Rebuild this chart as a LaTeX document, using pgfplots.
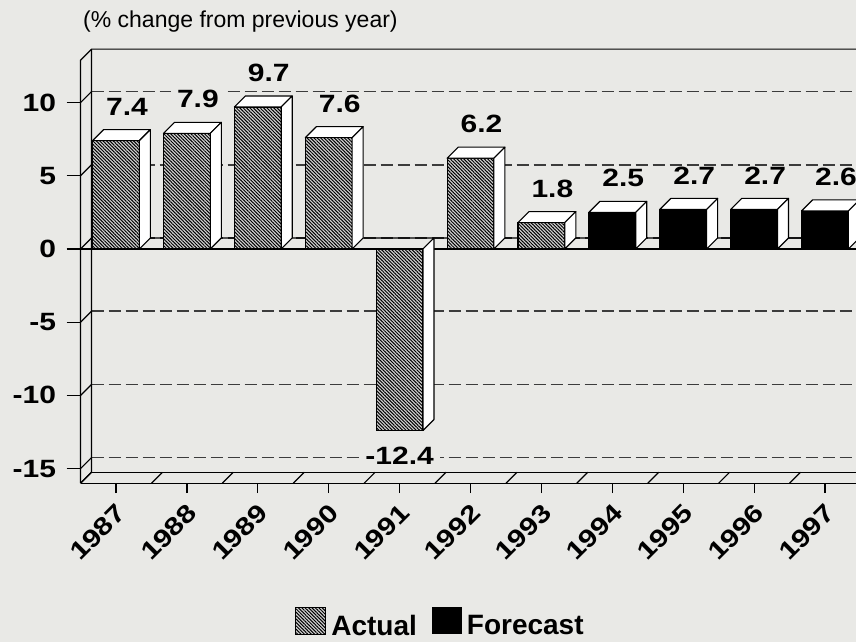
\documentclass[border=0pt]{standalone}
\usepackage{fontspec}
\setmainfont{Liberation Sans}
\newfontfamily\numfont{Liberation Sans}[FakeStretch=1.2]
\usepackage{pgfplots}
\usepackage{pgfplotstable}
\pgfplotsset{compat=1.18}
\usetikzlibrary{patterns,patterns.meta}

\definecolor{paper}{RGB}{233,233,230}
\definecolor{gridgray}{RGB}{60,60,60}
\pgfdeclareplotmark{blank}{}

% annual growth, % change from previous year
\pgfplotstableread{
idx val
0 7.4
1 7.9
2 9.7
3 7.6
4 -12.4
5 6.2
6 1.8
}\actual
\pgfplotstableread{
idx val
7 2.5
8 2.7
9 2.7
10 2.6
}\forecast

\tikzset{
  wall/.style={black, line width=1.2pt, line join=round},
  face/.style={draw=black, fill=white, line width=1.1pt, line join=round},
}

% top and side faces of a box whose front face runs from the point down to zero
\pgfplotsset{
  box faces/.style={
    scatter, only marks, mark=blank, forget plot,
    visualization depends on={rawy \as \val},
    scatter/@pre marker code/.code={%
      \pgfmathsetmacro\hh{\val*14.64}%
      \pgfmathsetmacro\nh{-1*(\hh)}%
      \pgfmathsetmacro\th{11-(\hh)}%
      \ifdim\hh pt>0pt
        \path[face] (-23.4pt,0pt) -- (23.4pt,0pt) -- (34.4pt,11pt) -- (-12.4pt,11pt) -- cycle;
      \fi
      \path[face] (23.4pt,0pt) -- (34.4pt,11pt) -- (34.4pt,\th pt) -- (23.4pt,\nh pt) -- cycle;
    },
    scatter/@post marker code/.code={},
  },
  value labels/.style={
    visualization depends on={rawy \as \vv},
    nodes near coords={\pgfmathprintnumber[fixed,fixed zerofill,precision=1,assume math mode=true]{\pgfplotspointmeta}},
    every node near coord/.append style={
      font=\numfont\bfseries\fontsize{25}{25}\selectfont, text=black,
      anchor=center, fill=paper, inner xsep=6pt, inner ysep=1pt,
      xshift={(\vv>0)*11pt}, yshift={(\vv>0)*34pt-(\vv<0)*25pt}},
  },
  square legend/.style={
    legend image code/.code={\path[##1, draw=none] (0pt,-8.4pt) rectangle (30pt,18.6pt);},
  },
}

\begin{document}
\begin{tikzpicture}
\useasboundingbox (0,0) rectangle (856pt,-642pt);
\clip (0,0) rectangle (856pt,-642pt);
\fill[paper] (0,0) rectangle (856pt,-642pt);
\node[anchor=base west, inner sep=0pt, font=\fontsize{23}{23}\selectfont] at (83pt,-28pt) {(\% change from previous year)};

\begin{axis}[
  at={(80.55pt,-483.2pt)}, anchor=south west,
  x=70.9pt, y=14.64pt,
  xmin=-0.5, xmax=10.5, ymin=-16, ymax=12.9,
  clip=false,
  axis line style={draw=none},
  tick align=outside,
  major tick length=14pt,
  tick style={black, line width=1.2pt},
  xtick pos=left, ytick pos=left,
  xtick={0,1,2,3,4,5,6,7,8,9,10},
  xticklabels={1987,1988,1989,1990,1991,1992,1993,1994,1995,1996,1997},
  ytick={-15,-10,-5,0,5,10},
  yticklabels={-15,-10,-5,0,5,10},
  xtick style={/pgfplots/major tick length=10pt},
  ticklabel style={font=\numfont\bfseries\fontsize{25}{25}\selectfont},
  xticklabel style={xshift=8pt, yshift=-9pt, rotate=45, anchor=east},
  yticklabel style={xshift=-7pt},
  ymajorgrids,
  grid style={gridgray, line width=1.5pt, dash pattern=on 12pt off 5pt, xshift=11pt, yshift=11pt},
  legend columns=2,
  legend style={at={(0.275,-0.3269)}, anchor=west, draw=none, fill=none, inner sep=0pt,
    font=\bfseries\fontsize{28}{28}\selectfont,
    /tikz/every even column/.append style={column sep=10pt},
    nodes={inner xsep=5pt, inner ysep=0pt}},
]
% left wall
\draw[wall] (axis cs:-0.5,-16) -- (axis cs:-0.5,12.9) -- ++(11pt,11pt) -- ++(900pt,0pt);
\draw[wall] (axis cs:-0.5,-16) -- ++(11pt,11pt) -- ++(0pt,423.1pt);
\pgfplotsinvokeforeach{-15,-10,-5,5,10}{\draw[wall] (axis cs:-0.5,#1) -- ++(11pt,11pt);}
% floor
\draw[wall] (axis cs:-0.5,-16) -- (axis cs:11,-16);
\draw[wall] (axis cs:-0.5,-16) ++(11pt,11pt) -- ++(900pt,0pt);
\pgfplotsinvokeforeach{-0.5,0.5,1.5,2.5,3.5,4.5,5.5,6.5,7.5,8.5,9.5,10.5}{\draw[wall] (axis cs:#1,-16) -- ++(11pt,11pt);}
% zero plane
\draw[wall] (axis cs:-0.5,0) -- (axis cs:11,0);
\draw[wall] (axis cs:-0.5,0) -- ++(11pt,11pt) -- ++(900pt,0pt);

\addplot[box faces] table[x=idx, y=val] {\actual};
\addplot[box faces] table[x=idx, y=val] {\forecast};

\addplot[ybar, bar width=0.66, bar shift=0pt, draw=black, line width=1.1pt,
  fill=gray!35, postaction={pattern={Lines[angle=-45, distance=2.4pt, line width=1pt]}},
  value labels, square legend]
  table[x=idx, y=val] {\actual};
\addlegendentry{Actual}
\addplot[ybar, bar width=0.66, bar shift=0pt, draw=black, line width=1.1pt, fill=black,
  value labels, square legend]
  table[x=idx, y=val] {\forecast};
\addlegendentry{Forecast}
\end{axis}
\end{tikzpicture}
\end{document}
